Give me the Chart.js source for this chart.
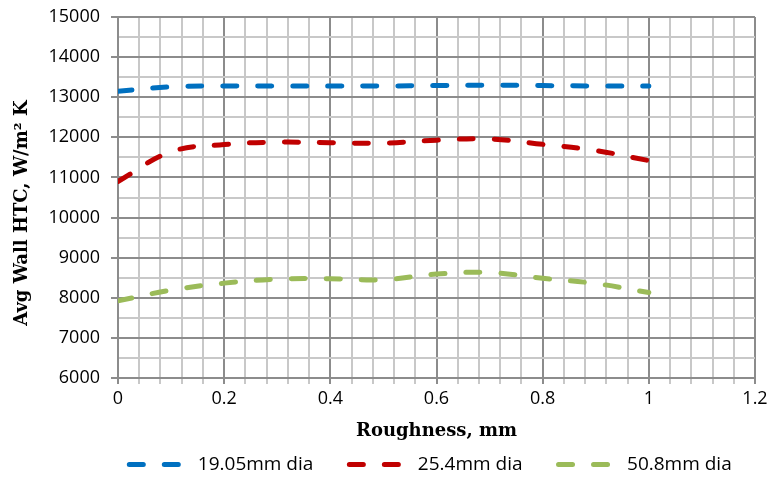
<!DOCTYPE html>
<html>
<head>
<meta charset="utf-8">
<script src="https://cdn.jsdelivr.net/npm/chart.js@4"></script>
<style>
    html, body { margin: 0; padding: 0; background: #fff; overflow: hidden; }
</style>
</head>
<body>
<canvas id="grafico-htc" width="772" height="484"></canvas>
<script>
// Valores
const roughness = [0, 0.1, 0.2, 0.3, 0.4, 0.5, 0.6, 0.7, 0.8, 0.9, 1.0];
const htc1905 = [13150, 13260, 13280, 13280, 13280, 13280, 13290, 13300, 13290, 13280, 13280];
const htc254 = [10900, 11640, 11820, 11880, 11865, 11855, 11930, 11960, 11825, 11670, 11420];
const htc508 = [7925, 8190, 8365, 8465, 8475, 8450, 8590, 8630, 8485, 8355, 8130];

const seriesNames = ['19.05mm dia', '25.4mm dia', '50.8mm dia'];
const seriesColors = ['#0070C0', '#C00000', '#9BBB59'];
const xLabels = ['0', '0.2', '0.4', '0.6', '0.8', '1', '1.2'];

const MAJOR = '#8c8c8c';
const MINOR = '#c8c8c8';
const DASH = [14, 21];

function pontos(valores) {
    return roughness.map((x, i) => ({ x: x, y: valores[i] }));
}

function majorX(v) {
    return Math.abs(v / 0.2 - Math.round(v / 0.2)) < 1e-6;
}

function serie(i, valores) {
    return {
        label: seriesNames[i],
        data: pontos(valores),
        borderColor: seriesColors[i],
        backgroundColor: seriesColors[i],
        borderWidth: 5,
        borderDash: DASH,
        borderCapStyle: 'round',
        pointRadius: 0,
        pointHoverRadius: 0,
        tension: 0.4,
        fill: false
    };
}

// centraliza a legenda sob a área do gráfico (como no Excel)
const deslocaLegenda = {
    id: 'deslocaLegenda',
    afterLayout(chart) {
        const l = chart.legend;
        const ca = chart.chartArea;
        const d = (ca.left + ca.right) / 2 - (l.left + l.right) / 2 - 6;
        l.left += d;
        l.right += d;
    }
};

Chart.defaults.font.family = "'Open Sans', sans-serif";
Chart.defaults.color = '#000';

new Chart(document.getElementById('grafico-htc'), {
    type: 'line',
    data: {
        datasets: [serie(0, htc1905), serie(1, htc254), serie(2, htc508)]
    },
    plugins: [deslocaLegenda],
    options: {
        responsive: false,
        animation: false,
        devicePixelRatio: 1,
        layout: { padding: { left: 0, right: 17, top: 17, bottom: 0 } },
        plugins: {
            tooltip: { enabled: false },
            legend: {
                position: 'bottom',
                labels: {
                    usePointStyle: true,
                    pointStyle: 'line',
                    pointStyleWidth: 59,
                    padding: 36,
                    font: { size: 19 },
                    color: '#000',
                    generateLabels: chart => chart.data.datasets.map((ds, i) => ({
                        text: ds.label,
                        fillStyle: ds.borderColor,
                        strokeStyle: ds.borderColor,
                        lineWidth: 5,
                        lineDash: DASH,
                        lineDashOffset: 0,
                        lineCap: 'round',
                        pointStyle: 'line',
                        hidden: false,
                        datasetIndex: i,
                        fontColor: '#000'
                    }))
                }
            }
        },
        scales: {
            x: {
                type: 'linear',
                min: 0,
                max: 1.2,
                afterFit: s => { s.height = 41; },
                ticks: {
                    stepSize: 0.04,
                    autoSkip: false,
                    maxRotation: 0,
                    padding: 4,
                    font: { size: 18 },
                    color: '#000',
                    callback: (v, i) => (i % 5 === 0 ? xLabels[i / 5] : '')
                },
                grid: {
                    color: ctx => (ctx.tick && majorX(ctx.tick.value) ? MAJOR : MINOR),
                    tickColor: ctx => (ctx.tick && majorX(ctx.tick.value) ? MAJOR : MINOR),
                    lineWidth: 2,
                    tickLength: 6
                },
                border: { color: MAJOR, width: 2 },
                title: {
                    display: true,
                    text: 'Roughness, mm',
                    color: '#000',
                    font: { family: "'DejaVu Serif', serif", weight: 'bold', size: 18 },
                    padding: { top: 0, bottom: -23 }
                }
            },
            y: {
                min: 6000,
                max: 15000,
                afterFit: s => {
                    s.width = 118;
                    s.paddingTop = 0;
                    s.paddingBottom = 0;
                },
                ticks: {
                    stepSize: 500,
                    autoSkip: false,
                    padding: 11,
                    font: { size: 18 },
                    color: '#000',
                    callback: v => (v % 1000 === 0 ? String(v) : '')
                },
                grid: {
                    color: ctx => (ctx.tick && ctx.tick.value % 1000 === 0 ? MAJOR : MINOR),
                    tickColor: ctx => (ctx.tick && ctx.tick.value % 1000 === 0 ? MAJOR : 'rgba(0,0,0,0)'),
                    lineWidth: 2,
                    tickLength: 7
                },
                border: { color: MAJOR, width: 2 },
                title: {
                    display: true,
                    text: 'Avg Wall HTC, W/m\u00b2 K\u00a0\u00a0\u00a0\u00a0\u00a0',
                    color: '#000',
                    font: { family: "'DejaVu Serif', serif", weight: 'bold', size: 18 },
                    padding: { top: 12, bottom: 0 }
                }
            }
        }
    }
});
</script>
</body>
</html>
